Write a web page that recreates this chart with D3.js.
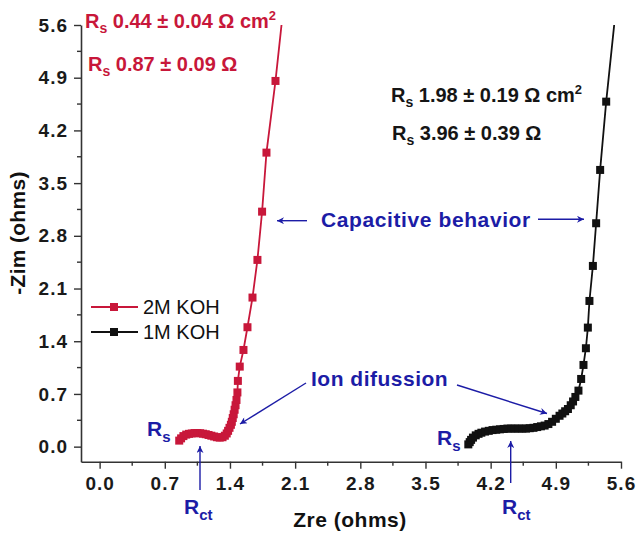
<!DOCTYPE html>
<html>
<head>
<meta charset="utf-8">
<script src="https://cdn.jsdelivr.net/npm/d3@7/dist/d3.min.js"></script>
<style>
  html, body { margin: 0; padding: 0; background: #fff; }
  svg { display: block; font-family: "Liberation Sans", Arial, sans-serif; }
</style>
</head>
<body>
<svg id="chart" width="637" height="540"></svg>
<script>
// ---------- data ----------
const seriesNames = ["2M KOH", "1M KOH"];
const seriesColors = ["#c8173a", "#111111"];

const koh2M_x = [0.855,0.875,0.90,0.93,0.96,0.99,1.02,1.05,1.08,1.11,1.14,1.17,1.20,1.23,1.26,1.29,1.32,1.345,1.365,1.38,1.395,1.41,1.42,1.43,1.44,1.45,1.46,1.47,1.48,1.485,1.505,1.545,1.588,1.642,1.695,1.745,1.792,1.889,1.971];
const koh2M_y = [0.08,0.11,0.14,0.16,0.17,0.175,0.18,0.18,0.178,0.172,0.165,0.155,0.145,0.135,0.125,0.12,0.125,0.145,0.175,0.21,0.25,0.29,0.33,0.38,0.43,0.49,0.55,0.62,0.72,0.873,1.063,1.284,1.586,1.98,2.48,3.121,3.905,4.857,5.8];

const koh1M_x = [3.96,3.975,3.99,4.01,4.04,4.07,4.10,4.14,4.18,4.22,4.26,4.30,4.34,4.38,4.42,4.46,4.50,4.54,4.58,4.62,4.66,4.70,4.74,4.78,4.82,4.86,4.90,4.94,4.97,5.00,5.03,5.06,5.085,5.11,5.143,5.172,5.197,5.223,5.244,5.261,5.298,5.333,5.376,5.441,5.552];
const koh1M_y = [0.03,0.06,0.09,0.12,0.15,0.17,0.185,0.2,0.21,0.22,0.225,0.23,0.235,0.24,0.24,0.24,0.24,0.24,0.24,0.245,0.25,0.26,0.27,0.28,0.30,0.33,0.37,0.41,0.44,0.47,0.50,0.55,0.60,0.66,0.744,0.899,1.085,1.307,1.581,1.935,2.40,2.967,3.675,4.582,5.9];

const xTicks = [0.0,0.7,1.4,2.1,2.8,3.5,4.2,4.9,5.6];
const yTicks = [0.0,0.7,1.4,2.1,2.8,3.5,4.2,4.9,5.6];
const minorTicks = [0.35,1.05,1.75,2.45,3.15,3.85,4.55,5.25];

// ---------- layout ----------
const svg = d3.select("#chart");
const plot = {left: 81, right: 621, top: 25, bottom: 461.7};
const x = d3.scaleLinear().domain([-0.2, 5.6]).range([plot.left, plot.right]);
const y = d3.scaleLinear().domain([-0.2, 5.6]).range([plot.bottom, plot.top]);
const blue = "#1c1ca6";
const axisColor = "#333";

// arrow marker
const defs = svg.append("defs");
defs.append("marker").attr("id", "arr").attr("viewBox", "0 0 10 10")
  .attr("refX", 10).attr("refY", 5).attr("markerWidth", 9).attr("markerHeight", 7)
  .attr("markerUnits", "userSpaceOnUse").attr("orient", "auto")
  .append("path").attr("d", "M0,0 L10,5 L0,10 L3,5 Z").attr("fill", blue);
defs.append("clipPath").attr("id", "clip").append("rect")
  .attr("x", plot.left).attr("y", plot.top)
  .attr("width", plot.right - plot.left).attr("height", plot.bottom - plot.top);

// ---------- axes ----------
const xAxis = d3.axisBottom(x).tickValues(xTicks).tickFormat(d3.format(".1f"))
  .tickSizeInner(7).tickSizeOuter(0).tickPadding(8);
const yAxis = d3.axisLeft(y).tickValues(yTicks).tickFormat(d3.format(".1f"))
  .tickSizeInner(7).tickSizeOuter(0).tickPadding(6);

const gx = svg.append("g").attr("transform", `translate(0,${plot.bottom})`).call(xAxis);
const gy = svg.append("g").attr("transform", `translate(${plot.left},0)`).call(yAxis);
[gx, gy].forEach(g => {
  g.select(".domain").attr("stroke", axisColor).attr("stroke-width", 1.6);
  g.selectAll(".tick line").attr("stroke", axisColor).attr("stroke-width", 1.4);
  g.selectAll(".tick text").attr("fill", "#1a1a1a").attr("font-size", 19)
    .attr("font-weight", "bold").attr("letter-spacing", "1px")
    .attr("font-family", "Liberation Sans, Arial, sans-serif");
});
// minor ticks
svg.append("g").selectAll("line").data(minorTicks).join("line")
  .attr("x1", d => x(d)).attr("x2", d => x(d))
  .attr("y1", plot.bottom).attr("y2", plot.bottom + 4)
  .attr("stroke", axisColor).attr("stroke-width", 1.4);
svg.append("g").selectAll("line").data(minorTicks).join("line")
  .attr("y1", d => y(d)).attr("y2", d => y(d))
  .attr("x1", plot.left).attr("x2", plot.left - 4)
  .attr("stroke", axisColor).attr("stroke-width", 1.4);

// axis titles
svg.append("text").attr("x", 350).attr("y", 527).attr("text-anchor", "middle")
  .attr("font-size", 21).attr("letter-spacing", "0.5px").attr("font-weight", "bold").attr("fill", "#111").text("Zre (ohms)");
svg.append("text").attr("transform", "translate(25,233) rotate(-90)").attr("text-anchor", "middle")
  .attr("font-size", 21).attr("letter-spacing", "0.3px").attr("font-weight", "bold").attr("fill", "#111").text("-Zim (ohms)");

// ---------- series ----------
const series = [
  {name: seriesNames[0], color: seriesColors[0], pts: koh2M_x.map((v, i) => [v, koh2M_y[i]])},
  {name: seriesNames[1], color: seriesColors[1], pts: koh1M_x.map((v, i) => [v, koh1M_y[i]])}
];
const line = d3.line().x(d => x(d[0])).y(d => y(d[1]));
const dataG = svg.append("g").attr("clip-path", "url(#clip)");
const ms = 8;
series.forEach(s => {
  dataG.append("path").datum(s.pts).attr("d", line).attr("fill", "none")
    .attr("stroke", s.color).attr("stroke-width", 1.8);
  dataG.append("g").selectAll("rect").data(s.pts).join("rect")
    .attr("x", d => x(d[0]) - ms / 2).attr("y", d => y(d[1]) - ms / 2)
    .attr("width", ms).attr("height", ms).attr("fill", s.color);
});

// ---------- legend ----------
const leg = svg.append("g");
series.forEach((s, i) => {
  const ly = 307 + i * 25;
  leg.append("line").attr("x1", 91).attr("x2", 138).attr("y1", ly).attr("y2", ly)
    .attr("stroke", s.color).attr("stroke-width", 1.8);
  leg.append("rect").attr("x", 114 - ms / 2).attr("y", ly - ms / 2).attr("width", ms).attr("height", ms)
    .attr("fill", s.color);
  leg.append("text").attr("x", 143).attr("y", ly).attr("dy", "0.36em")
    .attr("font-size", 20).attr("fill", "#111").text(s.name);
});

// ---------- annotations ----------
function rsText(xp, yp, color, value, unitSup) {
  const t = svg.append("text").attr("x", xp).attr("y", yp).attr("fill", color)
    .attr("font-size", 20).attr("font-weight", "bold");
  t.append("tspan").text("R");
  t.append("tspan").attr("dy", 5).attr("font-size", 14).text("s");
  t.append("tspan").attr("dy", -5).text(" " + value);
  if (unitSup) t.append("tspan").attr("dy", -8).attr("font-size", 13).text("2");
}
rsText(85, 28, seriesColors[0], "0.44 ± 0.04 Ω cm", true);
rsText(88, 71, seriesColors[0], "0.87 ± 0.09 Ω", false);
rsText(391, 102, "#151515", "1.98 ± 0.19 Ω cm", true);
rsText(392, 140, "#151515", "3.96 ± 0.39 Ω", false);

function subLabel(xp, yp, main, sub) {
  const t = svg.append("text").attr("x", xp).attr("y", yp).attr("fill", blue)
    .attr("font-size", 21).attr("font-weight", "bold");
  t.append("tspan").text(main);
  t.append("tspan").attr("dy", 6).attr("font-size", 15).text(sub);
}
subLabel(147, 436, "R", "s");
subLabel(184, 514, "R", "ct");
subLabel(437, 445, "R", "s");
subLabel(502, 514, "R", "ct");

svg.append("text").attr("x", 321).attr("y", 227).attr("fill", blue).attr("font-size", 21)
  .attr("letter-spacing", "0.6px").attr("font-weight", "bold").text("Capacitive behavior");
svg.append("text").attr("x", 311).attr("y", 386).attr("fill", blue).attr("font-size", 21)
  .attr("letter-spacing", "0.5px").attr("font-weight", "bold").text("Ion difussion");

const arrows = [
  [307, 220.7, 277, 220.7],
  [538, 219.3, 584, 219.3],
  [306, 383, 240, 424],
  [457, 385, 547, 413.5],
  [200, 490, 200, 446],
  [510.7, 483, 510.7, 441]
];
svg.append("g").selectAll("line").data(arrows).join("line")
  .attr("x1", d => d[0]).attr("y1", d => d[1]).attr("x2", d => d[2]).attr("y2", d => d[3])
  .attr("stroke", blue).attr("stroke-width", 1.4).attr("marker-end", "url(#arr)");
</script>
</body>
</html>
